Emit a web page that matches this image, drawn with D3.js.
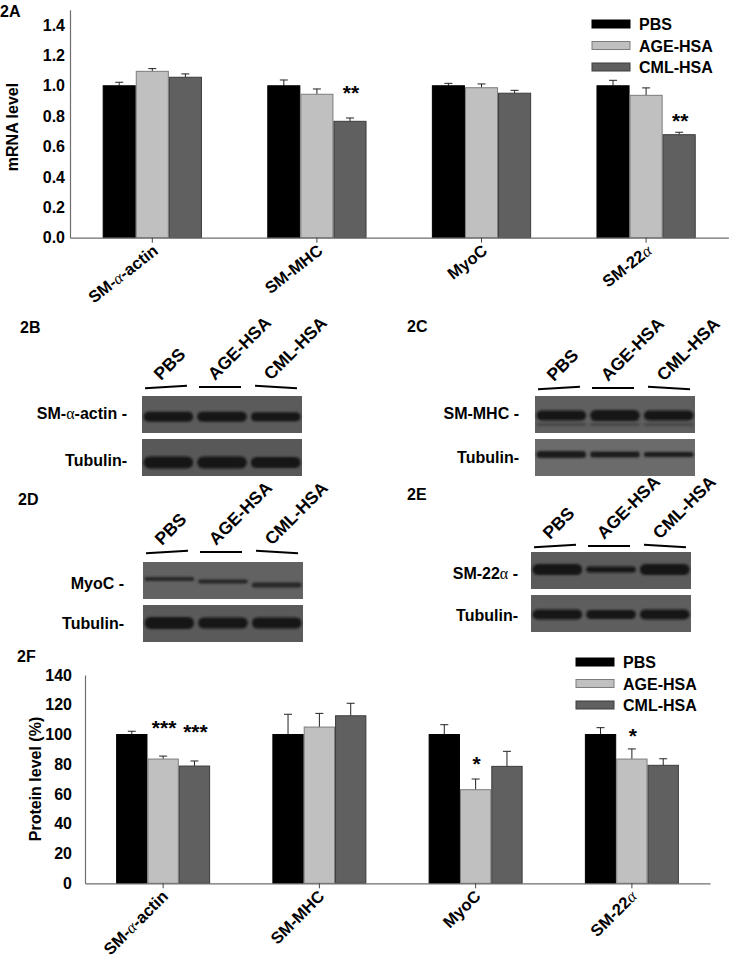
<!DOCTYPE html>
<html><head><meta charset="utf-8">
<script src="https://cdn.jsdelivr.net/npm/d3@7"></script>
<style>
body{margin:0;background:#fff}
svg{display:block}
text{font-family:"Liberation Sans",Arial,sans-serif;font-weight:bold;fill:#000}
</style>
</head><body><svg id="fig" width="731" height="960"></svg>
<script>
// ---------- data ----------
const categories = ["SM-α-actin", "SM-MHC", "MyoC", "SM-22α"];
const seriesNames = ["PBS", "AGE-HSA", "CML-HSA"];
const seriesColors = ["#000000", "#c0c0c0", "#606060"];
const seriesStroke = ["#000000", "#7c7c7c", "#3c3c3c"];

// 2A mRNA level
const mrnaTicks = [0, 0.2, 0.4, 0.6, 0.8, 1.0, 1.2, 1.4];
const mrnaPBS = [1.000, 1.000, 1.000, 1.000];
const mrnaAGE = [1.095, 0.944, 0.987, 0.937];
const mrnaCML = [1.056, 0.766, 0.951, 0.678];
const mrnaErrPBS = [0.023, 0.038, 0.016, 0.036];
const mrnaErrAGE = [0.018, 0.035, 0.025, 0.049];
const mrnaErrCML = [0.022, 0.022, 0.019, 0.016];
const mrnaSigAGE = ["", "", "", ""];
const mrnaSigAGEAt = [0, 0, 0, 0];
const mrnaSigCML = ["", "**", "", "**"];
const mrnaSigCMLAt = [0, 0.985, 0, 0.795];

// 2F protein level (%)
const protTicks = [0, 20, 40, 60, 80, 100, 120, 140];
const protPBS = [100, 100, 100, 100];
const protAGE = [83.5, 105.0, 62.9, 83.5];
const protCML = [78.8, 112.6, 78.6, 79.3];
const protErrPBS = [2.2, 13.6, 6.6, 4.6];
const protErrAGE = [2.0, 9.2, 7.2, 6.8];
const protErrCML = [3.4, 8.4, 10.1, 4.4];
const protSigAGE = ["***", "", "*", "*"];
const protSigAGEAt = [107.7, 0, 82.9, 101.7];
const protSigCML = ["***", "", "", ""];
const protSigCMLAt = [104.4, 0, 0, 0];

// Western blots: band thickness per lane (PBS, AGE-HSA, CML-HSA)
const blotB_actin = [10, 10, 9];
const blotB_tub = [12, 12, 11];
const blotC_mhc = [10, 11, 10];
const blotC_tub = [7, 6, 5];
const blotD_myoc = [4, 4, 5];
const blotD_myocShift = [0, 2.5, 6];
const blotD_tub = [12, 11, 11];
const blotE_sm22 = [11, 6, 11];
const blotE_tub = [10, 9, 10];

// ---------- drawing ----------
const svg = d3.select("#fig");
svg.append("rect").attr("width", 731).attr("height", 960).attr("fill", "#fff");
const defs = svg.append("defs");
defs.append("filter").attr("id", "blur").attr("x", "-20%").attr("y", "-100%").attr("width", "140%").attr("height", "300%")
  .append("feGaussianBlur").attr("stdDeviation", 1.3);

function addGreekText(sel, label, greekStyle) {
  const parts = label.split("α");
  parts.forEach((p, i) => {
    if (p) sel.append("tspan").text(p);
    if (i < parts.length - 1) {
      const t = sel.append("tspan").text("α").attr("font-family", "Liberation Serif, serif").attr("font-weight", "normal");
      if (greekStyle === "italic") t.attr("font-style", "italic");
    }
  });
}

function barChart(cfg) {
  const g = svg.append("g");
  const x0 = d3.scaleBand().domain(categories).range(cfg.xRange);
  const groupW = x0.bandwidth() * cfg.groupFrac;
  const x1 = d3.scaleBand().domain(seriesNames).range([0, groupW]);
  const y = d3.scaleLinear().domain(cfg.yDomain).range(cfg.yRange);
  const off = (x0.bandwidth() - groupW) / 2;

  const values = [cfg.vals[0], cfg.vals[1], cfg.vals[2]];
  seriesNames.forEach((s, si) => {
    const rows = categories.map((c, ci) => ({c, v: values[si][ci], e: cfg.errs[si][ci]}));
    g.selectAll(null).data(rows).enter().append("line")
      .attr("x1", d => x0(d.c) + off + x1(s) + x1.bandwidth() / 2)
      .attr("x2", d => x0(d.c) + off + x1(s) + x1.bandwidth() / 2)
      .attr("y1", d => y(d.v)).attr("y2", d => y(d.v + d.e))
      .attr("stroke", "#222").attr("stroke-width", 1);
    g.selectAll(null).data(rows).enter().append("line")
      .attr("x1", d => x0(d.c) + off + x1(s) + x1.bandwidth() / 2 - 4)
      .attr("x2", d => x0(d.c) + off + x1(s) + x1.bandwidth() / 2 + 4)
      .attr("y1", d => y(d.v + d.e)).attr("y2", d => y(d.v + d.e))
      .attr("stroke", "#222").attr("stroke-width", 1);
    g.selectAll(null).data(rows).enter().append("rect")
      .attr("x", d => x0(d.c) + off + x1(s) + 0.5)
      .attr("y", d => y(d.v))
      .attr("width", x1.bandwidth() - 1)
      .attr("height", d => y(0) - y(d.v))
      .attr("fill", seriesColors[si]).attr("stroke", seriesStroke[si]).attr("stroke-width", 1);
  });

  [[1, cfg.sigAGE, cfg.sigAGEAt], [2, cfg.sigCML, cfg.sigCMLAt]].forEach(([si, sig, at]) => {
    const rows = categories.map((c, ci) => ({c, t: sig[ci], a: at[ci]})).filter(d => d.t);
    g.selectAll(null).data(rows).enter().append("text")
      .attr("x", d => x0(d.c) + off + x1(seriesNames[si]) + x1.bandwidth() / 2 + 1)
      .attr("y", d => y(d.a) + 11.5)
      .attr("text-anchor", "middle").attr("font-size", 21).text(d => d.t);
  });

  const yAxis = g.append("g").attr("transform", `translate(${cfg.xRange[0]},0)`)
    .call(d3.axisLeft(y).tickValues(cfg.ticks).tickSize(0).tickPadding(cfg.tickPad).tickFormat(cfg.fmt));
  yAxis.select(".domain").attr("stroke", "#6e6e6e").attr("stroke-width", 1.2);
  yAxis.selectAll("text").attr("font-size", 16).attr("font-family", "Liberation Sans, Arial, sans-serif").attr("font-weight", "bold").attr("fill", "#000");

  const xAxis = g.append("g").attr("transform", `translate(0,${y(0)})`)
    .call(d3.axisBottom(x0).tickSizeInner(5).tickSizeOuter(0).tickFormat(""));
  xAxis.select(".domain").attr("stroke", "#6e6e6e").attr("stroke-width", 1.2);
  xAxis.selectAll(".tick line").attr("stroke", "#444");

  categories.forEach(c => {
    const t = g.append("text")
      .attr("transform", `translate(${x0(c) + x0.bandwidth() / 2 + cfg.lab[0]},${y(0) + cfg.lab[1]}) rotate(${cfg.lab[2]})`)
      .attr("text-anchor", "end").attr("font-size", 16.5);
    addGreekText(t, c, "italic");
  });

  g.append("text").attr("transform", `translate(${cfg.titlePos[0]},${cfg.titlePos[1]}) rotate(-90)`)
    .attr("text-anchor", "middle").attr("font-size", 16).text(cfg.title);

  seriesNames.forEach((s, i) => {
    g.append("rect").attr("x", cfg.legend[0]).attr("y", cfg.legend[1] + i * cfg.legend[2])
      .attr("width", 38).attr("height", 8)
      .attr("fill", seriesColors[i]).attr("stroke", seriesStroke[i]).attr("stroke-width", 1);
    g.append("text").attr("x", cfg.legend[0] + 47).attr("y", cfg.legend[1] + i * cfg.legend[2] + 10)
      .attr("font-size", 16).text(s);
  });
}

barChart({
  xRange: [70, 728.4], groupFrac: 0.603, yDomain: [0, 1.5], yRange: [237.7, 9.8],
  vals: [mrnaPBS, mrnaAGE, mrnaCML], errs: [mrnaErrPBS, mrnaErrAGE, mrnaErrCML],
  sigAGE: mrnaSigAGE, sigAGEAt: mrnaSigAGEAt, sigCML: mrnaSigCML, sigCMLAt: mrnaSigCMLAt,
  ticks: mrnaTicks, fmt: d3.format(".1f"), tickPad: 5, lab: [7, 15, -38],
  title: "mRNA level", titlePos: [18, 127], legend: [592, 20, 21.5]
});

barChart({
  xRange: [85, 710], groupFrac: 0.6016, yDomain: [0, 140], yRange: [883.3, 675],
  vals: [protPBS, protAGE, protCML], errs: [protErrPBS, protErrAGE, protErrCML],
  sigAGE: protSigAGE, sigAGEAt: protSigAGEAt, sigCML: protSigCML, sigCMLAt: protSigCMLAt,
  ticks: protTicks, fmt: d3.format("d"), tickPad: 13, lab: [6, 14, -45],
  title: "Protein level (%)", titlePos: [41, 779], legend: [576, 658, 21.5]
});

[["2A", 0, 17], ["2B", 20, 333], ["2C", 407, 332], ["2D", 18, 505], ["2E", 407, 500], ["2F", 17, 662]]
  .forEach(([t, x, yy]) => svg.append("text").attr("x", x).attr("y", yy).attr("font-size", 16).text(t));

function blotPanel(x, y, w, h, bg, thick, dark, cy, shift) {
  const lanes = d3.scaleBand().domain(seriesNames).range([x, x + w]).paddingInner(0.04).paddingOuter(0.01);
  svg.append("rect").attr("x", x).attr("y", y).attr("width", w).attr("height", h).attr("fill", bg);
  const g = svg.append("g").attr("filter", "url(#blur)");
  g.selectAll(null).data(seriesNames).enter().append("rect")
    .attr("x", d => lanes(d) + 1)
    .attr("y", (d, i) => y + cy + (shift ? shift[i] : 0) - thick[i] / 2)
    .attr("width", lanes.bandwidth() - 2)
    .attr("height", (d, i) => thick[i])
    .attr("rx", (d, i) => Math.min(thick[i] / 2, 6))
    .attr("fill", dark);
  return lanes;
}
function blotHeader(x, lineY, labelRight, rows) {
  const starts = [3, 57, 113];
  const slopes = [[1.3, -1.3], [0, 0], [-1.3, 1.3]];
  seriesNames.forEach((s, i) => {
    svg.append("line").attr("x1", x + starts[i]).attr("x2", x + starts[i] + 42)
      .attr("y1", lineY + slopes[i][0]).attr("y2", lineY + slopes[i][1])
      .attr("stroke", "#000").attr("stroke-width", 2);
    svg.append("text").attr("transform", `translate(${x + starts[i] + 16},${lineY - 6}) rotate(-45)`)
      .attr("font-size", 17.5).text(s);
  });
  rows.forEach(([label, yy]) => {
    const t = svg.append("text").attr("x", labelRight).attr("y", yy).attr("text-anchor", "end").attr("font-size", 16);
    addGreekText(t, label, "normal");
  });
}

// 2B
blotHeader(142, 387, 127, [["SM-α-actin -", 419], ["Tubulin-", 466]]);
blotPanel(142, 396, 160, 37, "#5b5b5b", blotB_actin, "#171717", 20.7);
blotPanel(142, 439, 160, 37, "#585858", blotB_tub, "#161616", 23.5);
// 2C
blotHeader(535, 388, 519, [["SM-MHC -", 419], ["Tubulin-", 462.5]]);
blotPanel(535, 396, 160, 37, "#5f5f5f", blotC_mhc, "#161616", 19.5);
blotPanel(535, 396, 160, 37, "rgba(0,0,0,0)", [2, 2, 2], "#3e3e3e", 28.5);
blotPanel(535, 439, 160, 37, "#6b6b6b", blotC_tub, "#1e1e1e", 15.5);
// 2D
blotHeader(143, 552, 124, [["MyoC -", 589], ["Tubulin-", 629]]);
blotPanel(143, 562, 160, 37, "#626262", blotD_myoc, "#262626", 17, blotD_myocShift);
blotPanel(143, 605, 160, 37, "#5a5a5a", blotD_tub, "#161616", 18);
// 2E
blotHeader(531, 546, 518, [["SM-22α -", 579], ["Tubulin-", 621]]);
blotPanel(531, 552, 160, 37, "#5b5b5b", blotE_sm22, "#151515", 17.5);
blotPanel(531, 595, 160, 37, "#5e5e5e", blotE_tub, "#151515", 19.5);
</script>
</body></html>
